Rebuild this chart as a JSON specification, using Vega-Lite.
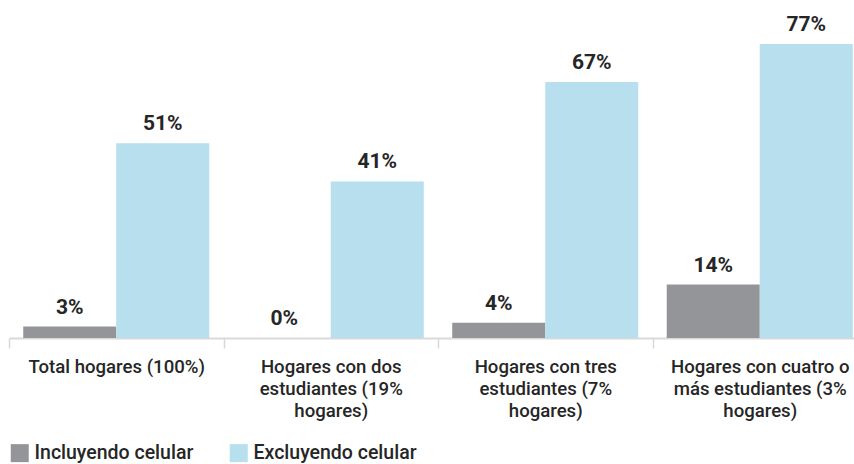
{
  "$schema": "https://vega.github.io/schema/vega-lite/v6.json",
  "width": 845,
  "height": 338,
  "autosize": {"type": "none"},
  "padding": {"left": 9, "top": 0, "right": 0, "bottom": 126},
  "config": {"view": {"stroke": null}, "font": "Roboto"},
  "data": {
    "values": [
      {"cat": "Total hogares (100%)", "serie": "Incluyendo celular", "value": 0.03},
      {"cat": "Total hogares (100%)", "serie": "Excluyendo celular", "value": 0.51},
      {"cat": "Hogares con dos|estudiantes (19%|hogares)", "serie": "Incluyendo celular", "value": 0.0},
      {"cat": "Hogares con dos|estudiantes (19%|hogares)", "serie": "Excluyendo celular", "value": 0.41},
      {"cat": "Hogares con tres|estudiantes (7%|hogares)", "serie": "Incluyendo celular", "value": 0.04},
      {"cat": "Hogares con tres|estudiantes (7%|hogares)", "serie": "Excluyendo celular", "value": 0.67},
      {"cat": "Hogares con cuatro o|más estudiantes (3%|hogares)", "serie": "Incluyendo celular", "value": 0.14},
      {"cat": "Hogares con cuatro o|más estudiantes (3%|hogares)", "serie": "Excluyendo celular", "value": 0.77}
    ]
  },
  "encoding": {
    "x": {
      "field": "cat",
      "type": "nominal",
      "sort": null,
      "scale": {"range": [0, 858], "paddingInner": 0, "paddingOuter": 0},
      "axis": {
        "title": null,
        "labelAngle": 0,
        "tickBand": "extent",
        "domainColor": "#d9d9d9",
        "domainWidth": 2,
        "tickColor": "#d9d9d9",
        "tickWidth": 1.5,
        "tickSize": 10,
        "labelFontSize": 18.6,
        "labelFontWeight": 500,
        "labelColor": "#262626",
        "labelPadding": 9,
        "labelLineHeight": 22,
        "labelLimit": 0,
        "labelExpr": "split(datum.label, '|')"
      }
    },
    "xOffset": {
      "field": "serie",
      "sort": null,
      "scale": {"paddingInner": 0, "paddingOuter": 0.153}
    },
    "y": {
      "field": "value",
      "type": "quantitative",
      "scale": {"domain": [0, 0.885], "nice": false},
      "axis": null
    }
  },
  "layer": [
    {
      "mark": {"type": "bar"},
      "encoding": {
        "color": {
          "field": "serie",
          "type": "nominal",
          "sort": null,
          "scale": {"domain": ["Incluyendo celular", "Excluyendo celular"], "range": ["#939598", "#b7dfed"]},
          "legend": {
            "orient": "none",
            "legendX": 1,
            "legendY": 443,
            "direction": "horizontal",
            "title": null,
            "symbolType": "square",
            "symbolSize": 324,
            "symbolStrokeWidth": 0,
            "labelFontSize": 19.5,
            "labelFontWeight": 500,
            "labelColor": "#262626",
            "labelOffset": 5,
            "columnPadding": 35,
            "labelLimit": 0
          }
        }
      }
    },
    {
      "mark": {"type": "text", "baseline": "bottom", "dy": -9, "fontWeight": "bold", "fontSize": 21, "color": "#262626"},
      "encoding": {
        "text": {"field": "value", "type": "quantitative", "format": ".0%"}
      }
    }
  ]
}
